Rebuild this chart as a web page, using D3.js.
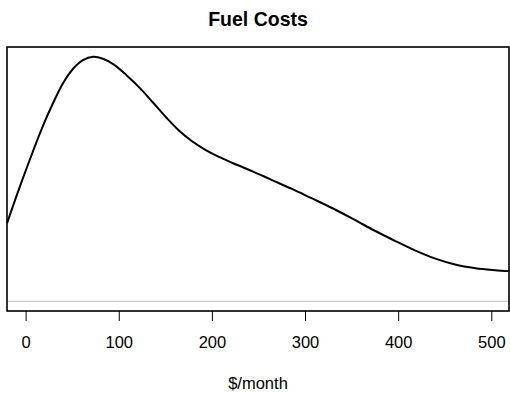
<!DOCTYPE html>
<html>
<head>
<meta charset="utf-8">
<script src="https://cdn.jsdelivr.net/npm/d3@7"></script>
<style>
  html, body { margin: 0; padding: 0; background: #fff; }
  svg { display: block; }
  text { font-family: "Liberation Sans", Arial, Helvetica, sans-serif; fill: #000; }
</style>
</head>
<body>
<svg id="chart" width="510" height="396"></svg>
<script>
// Kernel density estimate of monthly fuel costs ($/month)
const costs = [-20, -6.5, 8, 18.5, 29.5, 40, 51, 61.5, 72.5, 83, 94, 108, 122.5, 137, 151,
               164, 178, 192.5, 207, 221, 243, 264, 286, 307, 329, 354, 375, 397, 418, 440,
               461, 483, 504, 519];
const density = [0.318, 0.465, 0.614, 0.716, 0.810, 0.890, 0.950, 0.985, 0.999, 0.991,
                 0.969, 0.925, 0.872, 0.811, 0.751, 0.700, 0.656, 0.620, 0.591, 0.567,
                 0.532, 0.496, 0.459, 0.421, 0.381, 0.331, 0.288, 0.246, 0.208, 0.174,
                 0.150, 0.135, 0.127, 0.123];
const xTicks = [0, 100, 200, 300, 400, 500];
const title = "Fuel Costs";
const xLabel = "$/month";

const svg = d3.select("#chart");
const box = { left: 7, right: 509, top: 47, bottom: 311 };

// x spans the estimate's support, y is padded 4% either side of [0, max]
const xMin = d3.min(costs), xMax = d3.max(costs);
const yMax = d3.max(density);
const x = d3.scaleLinear().domain([xMin, xMax]).range([box.left, box.right]);
const y = d3.scaleLinear().domain([-0.04 * yMax, 1.04 * yMax]).range([box.bottom, box.top]);

// zero baseline
svg.append("line")
  .attr("x1", box.left).attr("x2", box.right)
  .attr("y1", y(0)).attr("y2", y(0))
  .attr("stroke", "#bebebe").attr("stroke-width", 1);

// density curve
const pts = costs.map((c, i) => [c, density[i]]);
svg.append("path")
  .datum(pts)
  .attr("fill", "none")
  .attr("stroke", "#000")
  .attr("stroke-width", 2)
  .attr("stroke-linejoin", "round")
  .attr("d", d3.line().x(d => x(d[0])).y(d => y(d[1])).curve(d3.curveCatmullRom.alpha(0.5)));

// plot frame
svg.append("rect")
  .attr("x", box.left).attr("y", box.top)
  .attr("width", box.right - box.left).attr("height", box.bottom - box.top)
  .attr("fill", "none").attr("stroke", "#000").attr("stroke-width", 1.6);

// x axis
const axis = svg.append("g")
  .attr("transform", `translate(0,${box.bottom})`)
  .call(d3.axisBottom(x).tickValues(xTicks).tickSize(10).tickPadding(15).tickSizeOuter(0));
axis.select(".domain").remove();
axis.selectAll(".tick line").attr("stroke", "#000").attr("stroke-width", 1);
axis.selectAll(".tick text")
  .style("font-size", "16.5px")
  .style("font-family", "'Liberation Sans', Arial, sans-serif")
  .attr("fill", "#000");

// axis title
svg.append("text")
  .attr("x", (box.left + box.right) / 2).attr("y", 389)
  .attr("text-anchor", "middle")
  .style("font-size", "16.5px")
  .text(xLabel);

// chart title
svg.append("text")
  .attr("x", (box.left + box.right) / 2).attr("y", 25.5)
  .attr("text-anchor", "middle")
  .style("font-size", "19.5px").style("font-weight", "bold")
  .text(title);
</script>
</body>
</html>
